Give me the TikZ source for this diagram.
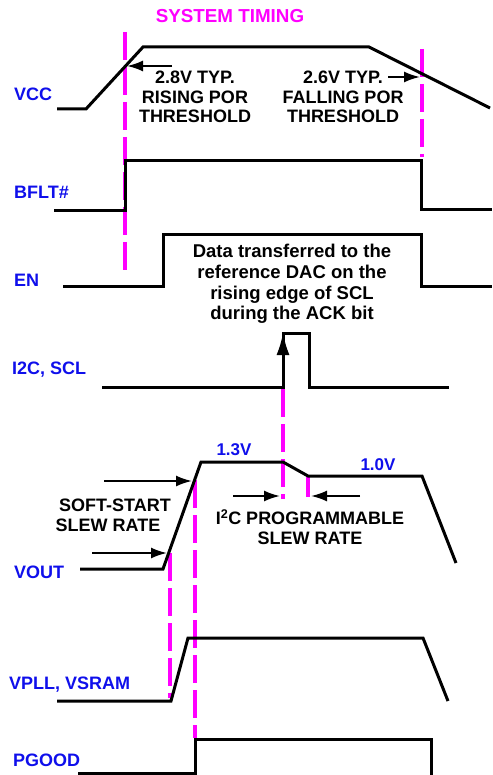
\documentclass[tikz,border=0pt]{standalone}
\usepackage{fontspec}
\setmainfont{Liberation Sans}
\usetikzlibrary{arrows.meta}
\definecolor{sigblue}{RGB}{15,15,235}
\definecolor{pinkmark}{RGB}{255,0,255}
\tikzset{
  sig/.style={line width=3pt, line join=miter, line cap=butt},
  pmark/.style={pinkmark, line width=3.5pt, dash pattern=on 28pt off 7pt},
  lbl/.style={text=sigblue, font=\bfseries\fontsize{18}{20}\selectfont, anchor=west, inner sep=0pt},
  txt/.style={font=\bfseries\fontsize{18}{19.5}\selectfont, align=center, inner sep=0pt},
  vtxt/.style={text=sigblue, font=\bfseries\fontsize{17}{19}\selectfont, inner sep=0pt},
  arr/.style={line width=2pt, -{Latex[length=16pt,width=11pt]}},
}
\begin{document}
\begin{tikzpicture}[x=1pt,y=-1pt]
\useasboundingbox (0,0) rectangle (492,775);

% title
\node[font=\bfseries\fontsize{18.8}{20}\selectfont, text=pinkmark, inner sep=0pt] (title) at (230,16) {SYSTEM TIMING};

% magenta markers
\coordinate (m1a) at (125,32);  \coordinate (m1b) at (125,277);
\coordinate (m2a) at (422,49);  \coordinate (m2b) at (422,157);
\coordinate (m3a) at (283,389); \coordinate (m3b) at (283,499);
\coordinate (m4a) at (308,475); \coordinate (m4b) at (308,497);
\coordinate (m5a) at (170,553); \coordinate (m5b) at (170,698);
\coordinate (m6a) at (195,480); \coordinate (m6b) at (195,738);
\draw[pmark] (m1a) -- (m1b);
\draw[pmark] (m2a) -- (m2b);
\draw[pmark] (m3a) -- (m3b);
\draw[pmark] (m4a) -- (m4b);
\draw[pmark] (m5a) -- (m5b);
\draw[pmark] (m6a) -- (m6b);

% labels
\node[lbl] (lvcc)  at (14,94)  {VCC};
\node[lbl] (lbflt) at (14,192) {BFLT\#};
\node[lbl] (len)   at (14,280) {EN};
\node[lbl] (li2c)  at (12,370) {I2C, SCL};
\node[lbl] (lvout) at (14,572) {VOUT};
\node[lbl] (lvpll) at (9,685) {VPLL, VSRAM};
\node[lbl] (lpg)   at (13,760) {PGOOD};

% VCC
\draw[sig] (57,109) -- (86,109) -- (143,47) -- (369,47) -- (490,108);
% BFLT#
\draw[sig] (54,211) -- (125,211) -- (125,161) -- (421,161) -- (421,210) -- (492,210);
% EN
\draw[sig] (63,286) -- (163,286) -- (163,235) -- (421,235) -- (421,286) -- (492,286);
% I2C SCL
\draw[sig] (102,387) -- (283,387) -- (283,333) -- (309,333) -- (309,387) -- (449,387);
% VOUT
\draw[sig] (80,569) -- (163,569) -- (201,462) -- (283,462) -- (308,476) -- (422,476) -- (456,563);
% VPLL
\draw[sig] (57,701) -- (171,701) -- (188,638) -- (423,638) -- (448,701);
% PGOOD
\draw[sig] (78,773) -- (195,773) -- (195,739) -- (431,739) -- (431,775);

% VCC annotations
\coordinate (a1s) at (172,66); \coordinate (a1e) at (127,66);
\draw[arr] (a1s) -- (a1e);
\node[txt] (t28) at (195,97) {2.8V TYP.\\RISING POR\\THRESHOLD};
\coordinate (a2s) at (388,77); \coordinate (a2e) at (420,77);
\draw[arr] (a2s) -- (a2e);
\node[txt] (t26) at (343,97) {2.6V TYP.\\FALLING POR\\THRESHOLD};

% Data text
\node[txt, font=\bfseries\fontsize{18.5}{20.7}\selectfont] (data) at (292,284) {Data transferred to the\\reference DAC on the\\rising edge of SCL\\during the ACK bit};
\coordinate (sa) at (283,362); \coordinate (sb) at (283,333);
\draw[line width=2pt, -{Latex[length=22pt,width=13pt]}] (sa) -- (sb);

% VOUT annotations
\node[vtxt] (v13) at (234,450) {1.3V};
\node[vtxt] (v10) at (378,465) {1.0V};
\coordinate (ss1s) at (104,481); \coordinate (ss1e) at (192,481);
\coordinate (ss2s) at (92,553);  \coordinate (ss2e) at (167,553);
\draw[arr] (ss1s) -- (ss1e);
\draw[arr] (ss2s) -- (ss2e);
\node[txt] (soft) at (115,505) {SOFT-START};
\node[txt] (slew) at (108,525) {SLEW RATE};
\coordinate (p1s) at (233,496); \coordinate (p1e) at (280,496);
\coordinate (p2s) at (360,496); \coordinate (p2e) at (311,496);
\draw[arr] (p1s) -- (p1e);
\draw[arr] (p2s) -- (p2e);
\node[txt] (prog) at (310,527) {I\textsuperscript{2}C PROGRAMMABLE\\SLEW RATE};
\end{tikzpicture}
\end{document}
